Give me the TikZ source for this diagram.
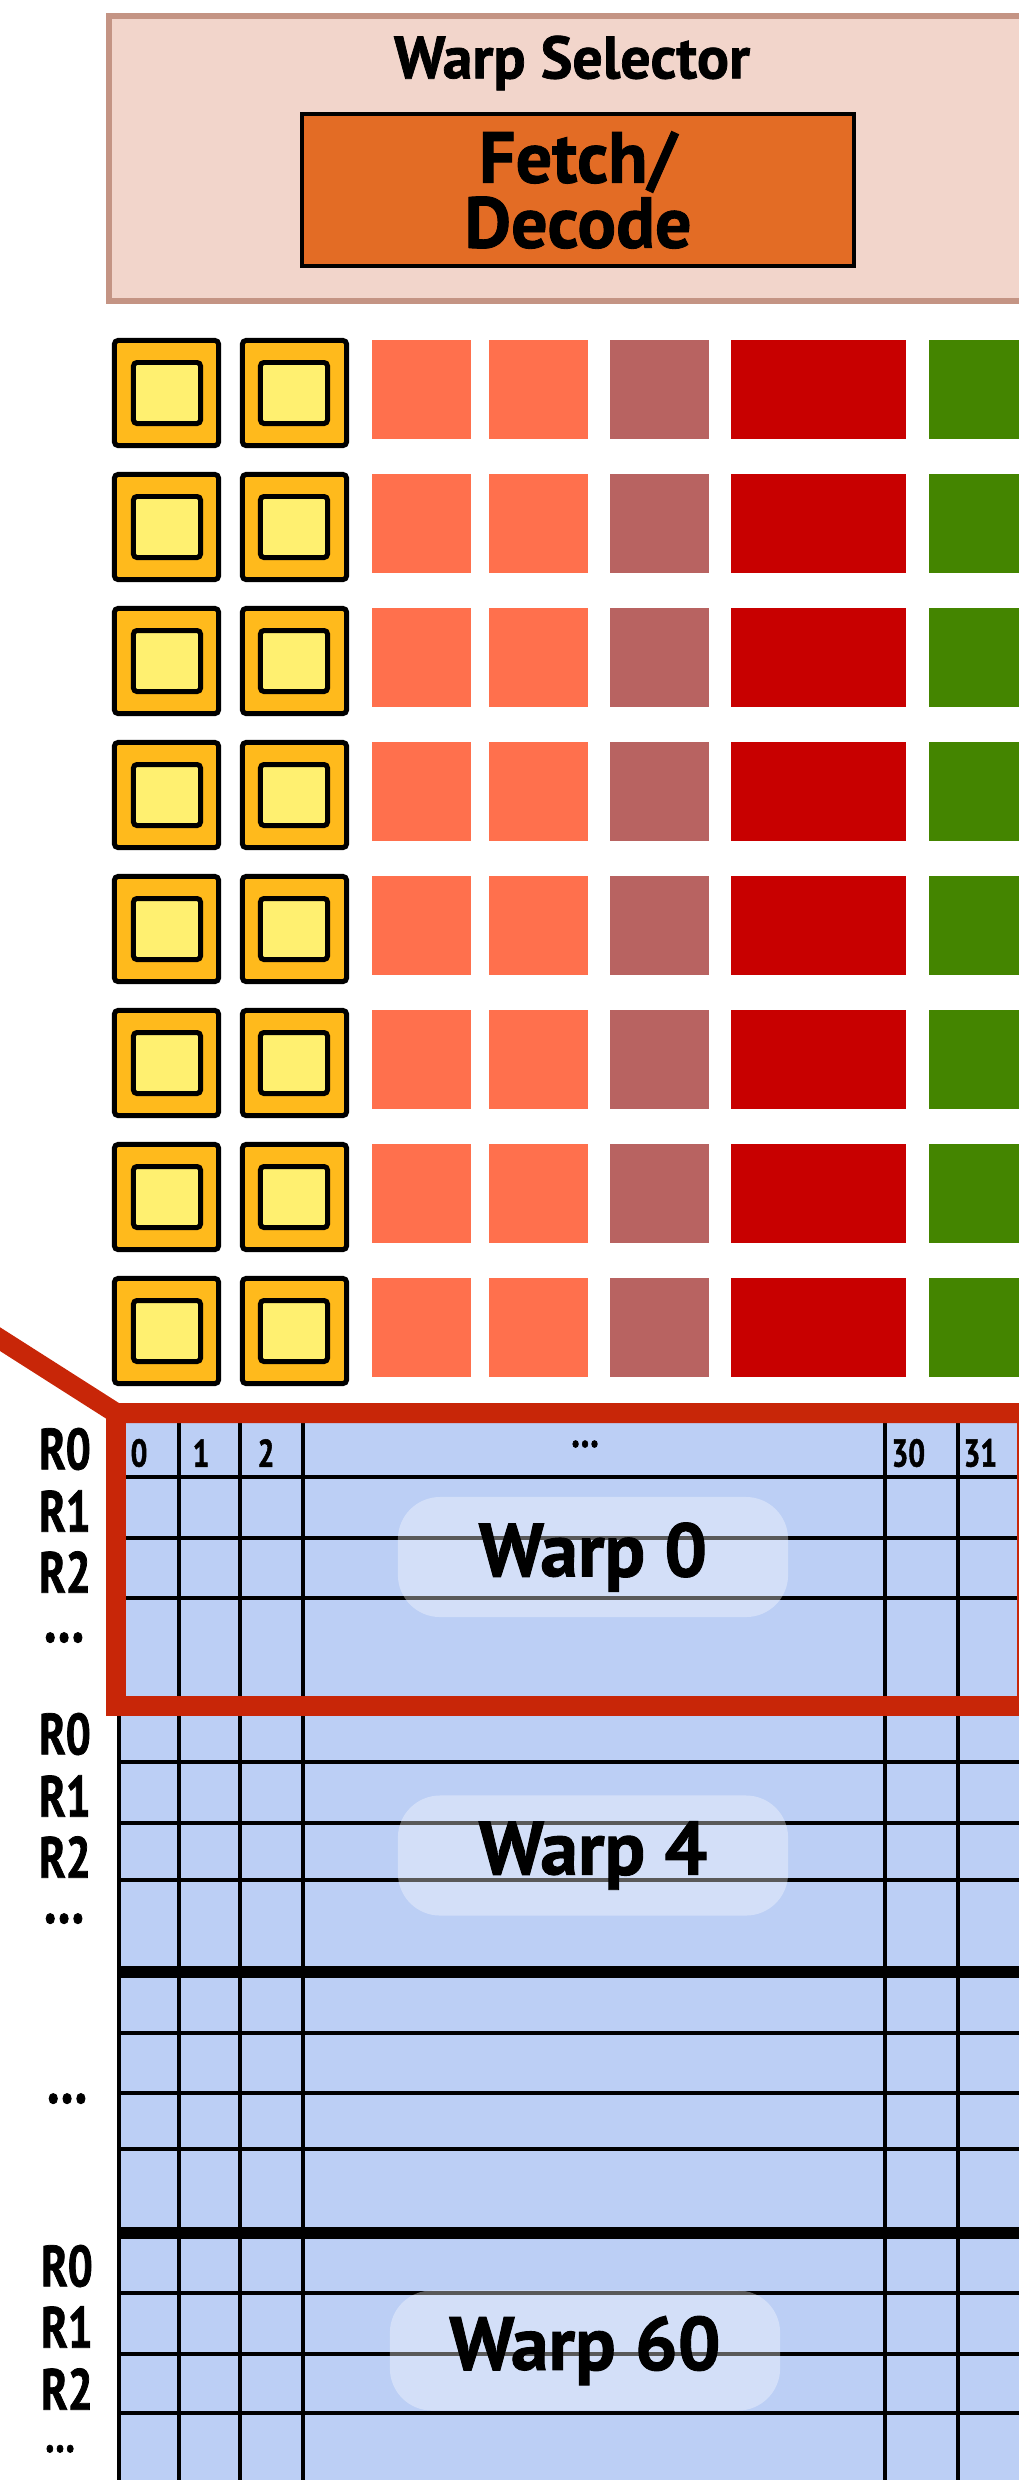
\documentclass[tikz,border=0pt]{standalone}
\usepackage{fontspec}
\setmainfont{PT Sans}[BoldFeatures={FakeBold=1.2}]
\newfontfamily\narrowfont{PT Sans}[FakeStretch=0.76, BoldFeatures={FakeBold=1.3}]
\usepackage{xcolor}
\definecolor{selpink}{RGB}{242,213,203}
\definecolor{selrim}{RGB}{196,148,132}
\definecolor{fetchor}{RGB}{227,108,37}
\definecolor{aluout}{RGB}{255,186,28}
\definecolor{aluin}{RGB}{255,240,112}
\definecolor{unitor}{RGB}{255,112,77}
\definecolor{unitbr}{RGB}{184,99,97}
\definecolor{unitred}{RGB}{200,0,0}
\definecolor{unitgr}{RGB}{68,133,0}
\definecolor{regblue}{RGB}{188,207,245}
\definecolor{zoomred}{RGB}{200,38,8}
\usetikzlibrary{positioning}

\begin{document}
\begin{tikzpicture}[x=0.01cm, y=-0.01cm, every node/.style={font=\bfseries, inner sep=0pt},
  aluo/.style={draw=black, fill=aluout, line width=1.42pt, rounded corners=1pt, minimum width=1.04cm, minimum height=1.05cm},
  alui/.style={draw=black, fill=aluin, line width=1.42pt, rounded corners=1pt, minimum width=0.67cm, minimum height=0.61cm},
  unitbox/.style={minimum width=0.99cm, minimum height=0.99cm},
  gridln/.style={line width=1.3pt},
  sepln/.style={line width=3.4pt},
  reglbl/.style={font=\narrowfont\fontsize{16.5}{17}\selectfont\bfseries},
  dotlbl/.style={font=\narrowfont\fontsize{#1}{#1}\selectfont\bfseries, anchor=base},
  collbl/.style={font=\narrowfont\fontsize{11}{12}\selectfont\bfseries, anchor=west},
  warplbl/.style={rounded corners=12pt, fill=white, fill opacity=0.35, text opacity=1, minimum width=3.9cm, minimum height=1.2cm, font=\fontsize{21.5}{22}\selectfont\bfseries}]
\useasboundingbox (0,0) rectangle (1019,2480);
\clip (0,0) rectangle (1019,2480);
% warp selector
\node[draw=selrim, fill=selpink, line width=1.7pt, minimum width=9.6cm, minimum height=2.85cm] (sel) at (589,158.5) {};
\node[font=\fontsize{17}{18}\selectfont\bfseries] (seltxt) at (572,63) {Warp Selector};
\node[draw=black, fill=fetchor, line width=1.14pt, minimum width=5.52cm, minimum height=1.52cm, align=center,
  font=\fontsize{20.5}{18.5}\selectfont\bfseries] (fetch) at (578,190) {Fetch/\\Decode};
% execution units, one row per lane group
\foreach \r in {0,...,7} {
  \pgfmathsetmacro{\ry}{340+134*\r}
  \node[aluo] (alu\r a) at (166.5,\ry+53) {};
  \node[alui] (alu\r ai) at (167,\ry+53) {};
  \node[aluo] (alu\r b) at (294.5,\ry+53) {};
  \node[alui] (alu\r bi) at (294,\ry+53) {};
  \node[unitbox, fill=unitor] (ld\r a) at (421.5,\ry+49.5) {};
  \node[unitbox, fill=unitor] (ld\r b) at (538.5,\ry+49.5) {};
  \node[unitbox, fill=unitbr] (sfu\r) at (659.5,\ry+49.5) {};
  \node[unitbox, fill=unitred, minimum width=1.75cm] (tex\r) at (818.5,\ry+49.5) {};
  \node[unitbox, fill=unitgr, minimum width=1.3cm] (mem\r) at (994,\ry+49.5) {};
}
% register file
\fill[regblue] (119,1413) rectangle (1030,2490);
\foreach \y in {1477,1538,1598,1762,1823,1880,2033,2093,2149,2293,2354,2413}
  \draw[gridln] (119,\y) -- (1030,\y);
\foreach \y in {1706,1972,2233}
  \draw[sepln] (119,\y) -- (1030,\y);
\foreach \x in {119,179,240,303,885,958}
  \draw[gridln] (\x,1413) -- (\x,2490);
\node[collbl] (c0) at (130,1453) {0};
\node[collbl] (c1) at (192,1453) {1};
\node[collbl] (c2) at (257,1453) {2};
\node[dotlbl=13] (cdots) at (585,1447) {…};
\node[collbl] (c30) at (891,1453) {30};
\node[collbl] (c31) at (963,1453) {31};
\node[warplbl] (w0) at (593,1557) {Warp 0};
\node[warplbl] (w4) at (593,1855.5) {Warp 4};
\node[warplbl] (w60) at (585,2350.5) {Warp 60};
% zoom frame
\draw[zoomred, line width=5.7pt, line join=miter] (-30,1320) -- (116,1413) -- (1027,1413);
\draw[zoomred, line width=5.7pt] (116,1403) -- (116,1706) -- (1027,1706) -- (1027,1403);
% register names
\node[reglbl] (w0r0) at (65,1449) {R0};
\node[reglbl] (w0r1) at (65,1511) {R1};
\node[reglbl] (w0r2) at (65,1572) {R2};
\node[dotlbl=19] (w0rx) at (64,1642) {…};
\node[reglbl] (w4r0) at (65,1734) {R0};
\node[reglbl] (w4r1) at (65,1796) {R1};
\node[reglbl] (w4r2) at (65,1857) {R2};
\node[dotlbl=19] (w4rx) at (64,1923) {…};
\node[dotlbl=19] (midx) at (67,2103) {…};
\node[reglbl] (w60r0) at (67,2266) {R0};
\node[reglbl] (w60r1) at (67,2327) {R1};
\node[reglbl] (w60r2) at (67,2389) {R2};
\node[dotlbl=14] (w60rx) at (60,2452) {…};
\end{tikzpicture}
\end{document}
